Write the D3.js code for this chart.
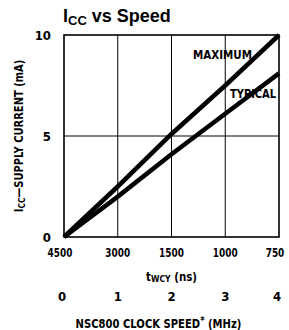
<!DOCTYPE html>
<html>
<head>
<meta charset="utf-8">
<script src="https://cdn.jsdelivr.net/npm/d3@7"></script>
<style>
  body { margin: 0; background: #fff; }
  svg { display: block; }
  text { font-family: "Liberation Sans Narrow", "DejaVu Sans Condensed", "Liberation Sans", sans-serif; font-weight: bold; fill: #000; }
  .grid line { stroke: #000; stroke-width: 1; }
</style>
</head>
<body>
<div class="chart"></div>
<script>
// clock speed (MHz) on the bottom, cycle time labels above it
var clockTicks = [0, 1, 2, 3, 4];
var cycleLabels = ["4500", "3000", "1500", "1000", "750"];
var currentTicks = [0, 5, 10];

var maxSpeed = [0, 1, 2, 3, 4];
var maxCurrent = [0, 2.5, 5.1, 7.5, 10];
var typSpeed = [0, 1, 2, 3, 4];
var typCurrent = [0, 2.0, 4.1, 6.1, 8.1];

var width = 289;
var height = 330;

var x = d3.scaleLinear().domain([0, 4]).range([64, 279]);
var y = d3.scaleLinear().domain([0, 10]).range([237, 35]);

var svg = d3.select('.chart').append('svg')
            .attr('width', width)
            .attr('height', height);

// squeeze a one-piece label to the width it has in the picture
function fit(sel, w) {
  return sel.attr('textLength', w).attr('lengthAdjust', 'spacingAndGlyphs');
}

// title with subscript
var title = svg.append('text')
               .attr('x', 63).attr('y', 22)
               .style('font-family', '"Liberation Sans", Arial, sans-serif')
               .style('font-size', '18px');
title.append('tspan').text('I');
title.append('tspan').attr('dy', 3).style('font-size', '13px').text('CC');
title.append('tspan').attr('dy', -3).text(' vs Speed');

// grid
var grid = svg.append('g').attr('class', 'grid');
grid.selectAll('.vl').data(clockTicks.slice(1, 4)).enter().append('line')
    .attr('x1', function(d) { return x(d); }).attr('x2', function(d) { return x(d); })
    .attr('y1', y(10)).attr('y2', y(0));
grid.append('line')
    .attr('x1', x(0)).attr('x2', x(4))
    .attr('y1', y(5)).attr('y2', y(5));

// frame
svg.append('rect')
   .attr('x', x(0)).attr('y', y(10))
   .attr('width', x(4) - x(0)).attr('height', y(0) - y(10))
   .attr('fill', 'none').attr('stroke', '#000').attr('stroke-width', 1.6);

// curves
var line = d3.line()
             .x(function(d) { return x(d[0]); })
             .y(function(d) { return y(d[1]); });

svg.append('path')
   .attr('d', line(d3.zip(maxSpeed, maxCurrent)))
   .attr('fill', 'none').attr('stroke', '#000').attr('stroke-width', 4.5);
svg.append('path')
   .attr('d', line(d3.zip(typSpeed, typCurrent)))
   .attr('fill', 'none').attr('stroke', '#000').attr('stroke-width', 4.5);

fit(svg.append('text').attr('x', 193).attr('y', 59)
   .style('font-size', '12px').text('MAXIMUM'), 59);
fit(svg.append('text').attr('x', 230).attr('y', 98)
   .style('font-size', '12px').text('TYPICAL'), 46);

// y ticks
svg.selectAll('.ytick').data(currentTicks).enter().append('text')
   .attr('x', 51)
   .attr('y', function(d) { return y(d) + 5; })
   .attr('text-anchor', 'end')
   .style('font-size', '13px')
   .text(function(d) { return d; });

// y label
var ylab = svg.append('text')
              .attr('transform', 'translate(23,136) rotate(-90) scale(0.92,1)')
              .attr('text-anchor', 'middle')
              .style('font-size', '12px');
ylab.append('tspan').text('I');
ylab.append('tspan').attr('dy', 2).style('font-size', '9px').text('CC');
ylab.append('tspan').attr('dy', -2).text('—SUPPLY CURRENT (mA)');

// cycle time labels; the end ones sit a little inside the frame
var edgeShift = [-4, 0, 0, 0, -4];
svg.selectAll('.tcy').data(clockTicks).enter().append('text')
   .attr('x', function(d, i) { return x(d) + edgeShift[i]; })
   .attr('y', 257)
   .attr('text-anchor', 'middle')
   .style('font-size', '13px')
   .attr('textLength', function(d, i) { return cycleLabels[i].length * 6.2; })
   .attr('lengthAdjust', 'spacingAndGlyphs')
   .text(function(d, i) { return cycleLabels[i]; });

var tl = svg.append('text')
            .attr('transform', 'translate(' + x(2) + ',281) scale(0.95,1)')
            .attr('text-anchor', 'middle').style('font-size', '12px');
tl.append('tspan').text('t');
tl.append('tspan').attr('dy', 1).style('font-size', '9px').text('WCY');
tl.append('tspan').attr('dy', -1).text(' (ns)');

// clock speed labels
svg.selectAll('.clk').data(clockTicks).enter().append('text')
   .attr('x', function(d, i) { return x(d) + edgeShift[i] / 2; })
   .attr('y', 301)
   .attr('text-anchor', 'middle')
   .style('font-size', '13px')
   .text(function(d) { return d; });

var cl = svg.append('text')
            .attr('transform', 'translate(' + (x(2) - 13) + ',328) scale(0.93,1)')
            .attr('text-anchor', 'middle').style('font-size', '12px');
cl.append('tspan').text('NSC800 CLOCK SPEED');
cl.append('tspan').attr('dy', -4).style('font-size', '10px').text('*');
cl.append('tspan').attr('dy', 4).text(' (MHz)');
</script>
</body>
</html>
